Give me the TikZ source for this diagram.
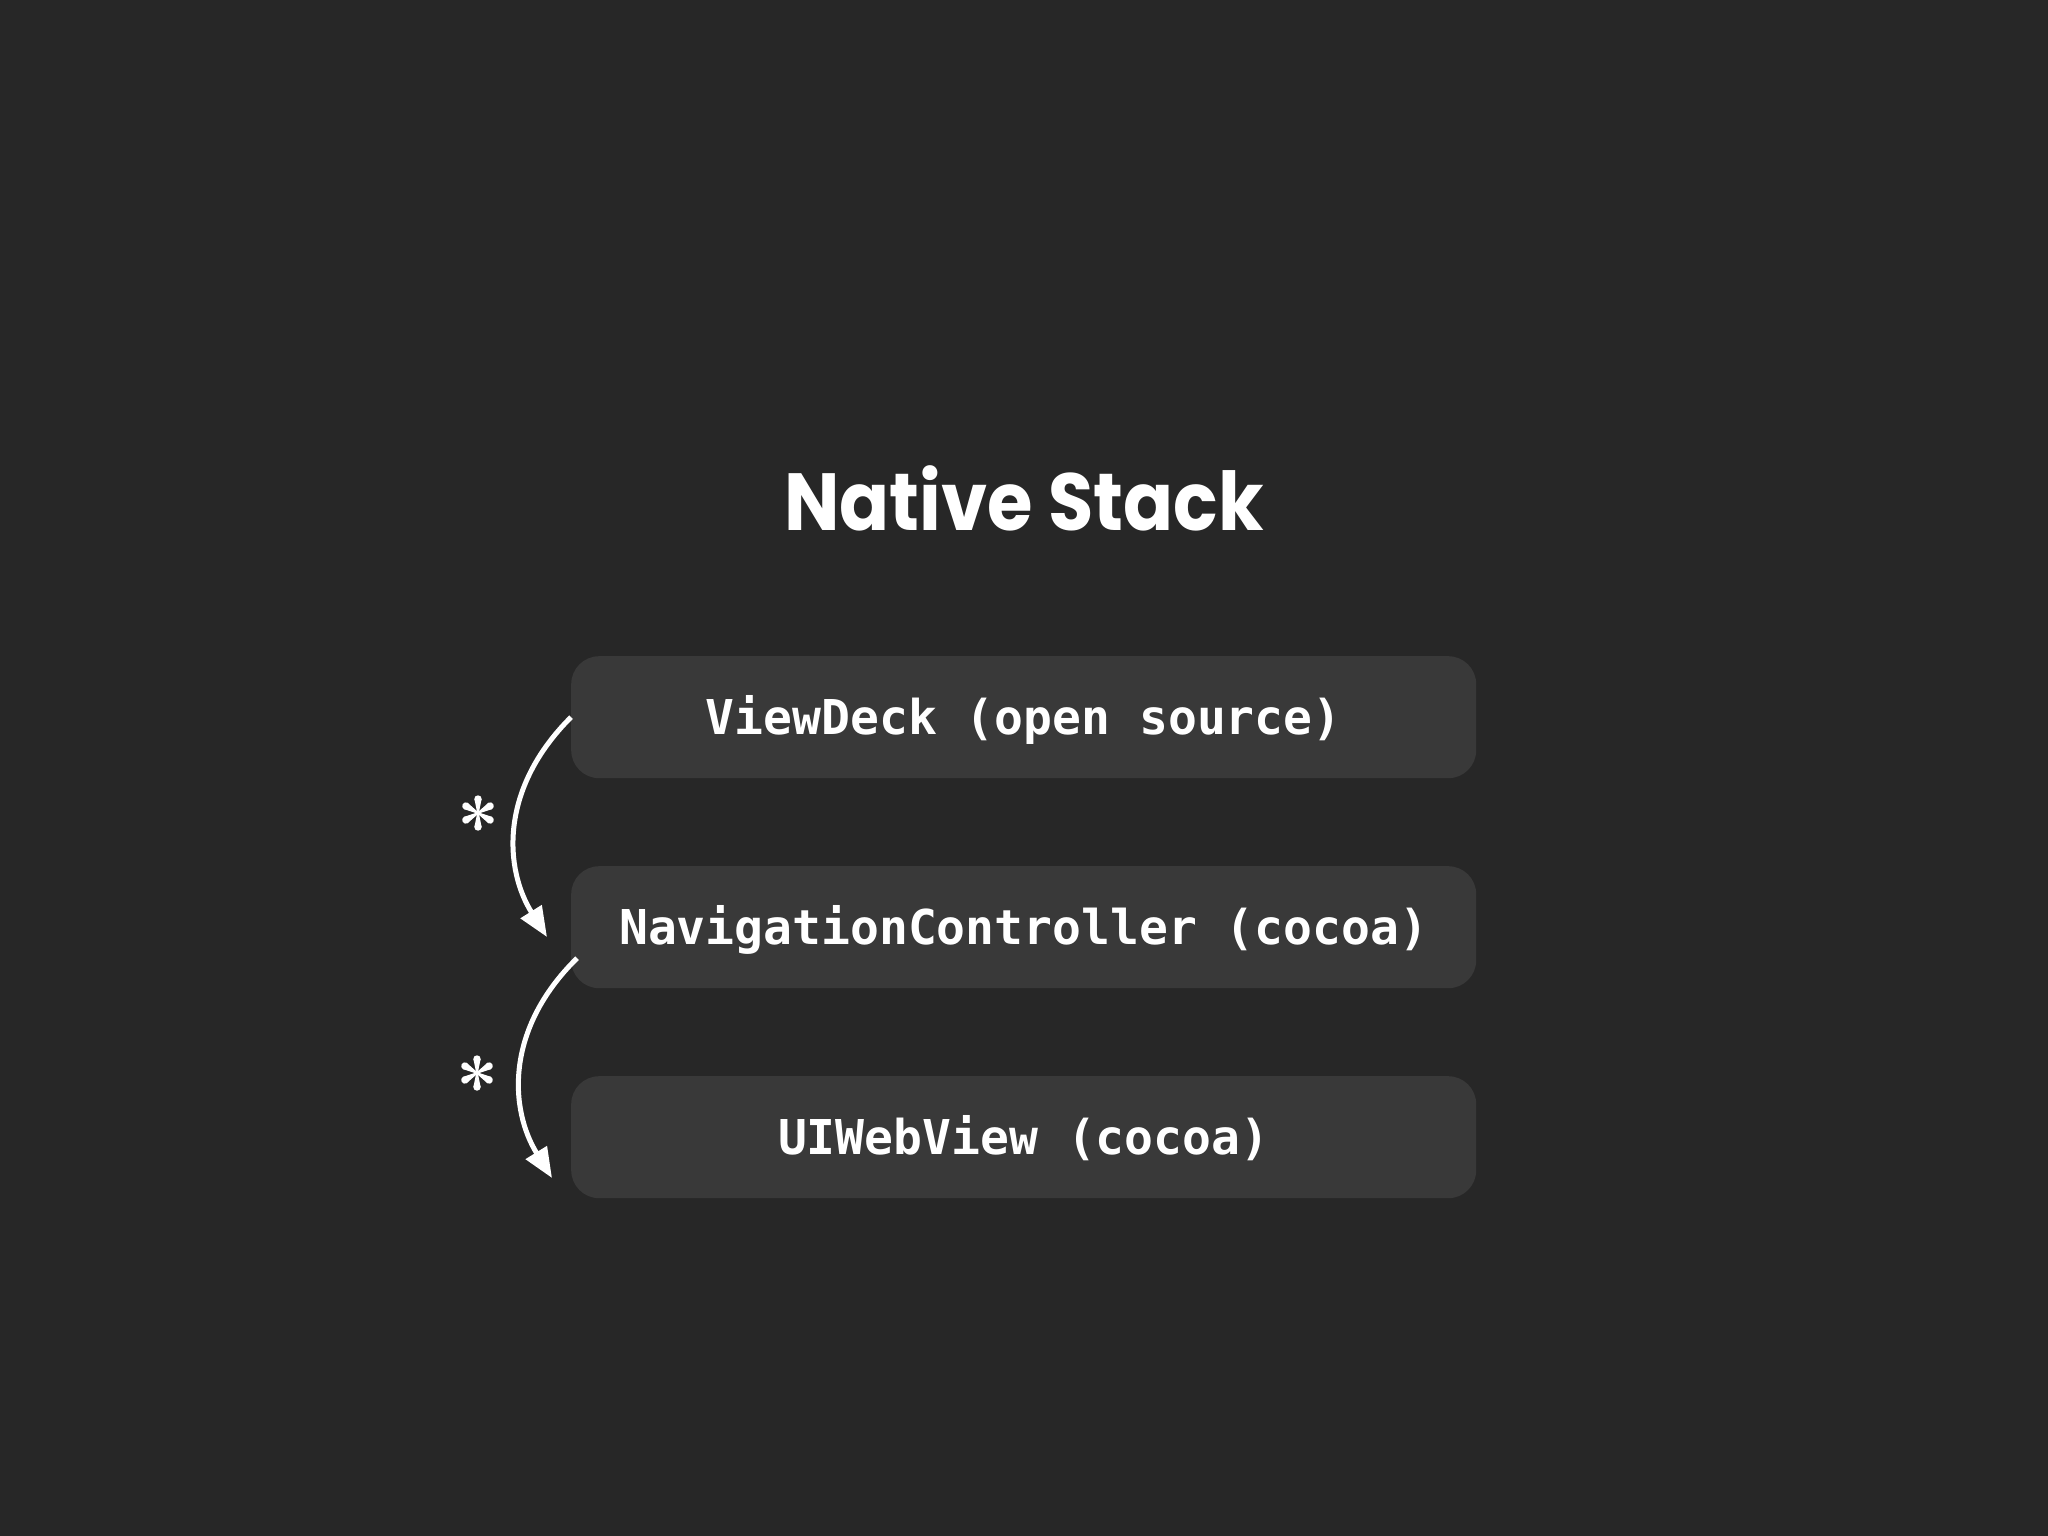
\documentclass[tikz,border=0pt]{standalone}
\usepackage{fontspec}
\usetikzlibrary{arrows.meta}
\newfontfamily\titlefont{Poppins}
\newfontfamily\codefont{DejaVu Sans Mono}
\definecolor{bgc}{HTML}{272727}
\definecolor{boxc}{HTML}{393939}
\begin{document}
\begin{tikzpicture}[x=1pt,y=-1pt,
  stackbox/.style={fill=boxc, rounded corners=28pt, minimum width=905pt, minimum height=122pt,
    inner sep=0pt, text=white, font=\codefont\bfseries\fontsize{48}{50}\selectfont,
    text height=35pt, text depth=0pt, anchor=north west},
  flow/.style={draw=white, line width=5pt, -{Triangle[length=30pt,width=24pt]}},
  spoke/.style={fill=white}]
\useasboundingbox[fill=bgc] (0,0) rectangle (2048,1536);
\node[font=\titlefont\bfseries\fontsize{81}{90}\selectfont, text=white, anchor=base, inner sep=0pt] (title) at (1024,530) {\scalebox{0.91}[1]{Native Stack}};
\node[stackbox] (vd) at (571,656) {ViewDeck (open source)};
\node[stackbox] (nc) at (571,866) {NavigationController (cocoa)};
\node[stackbox] (ui) at (571,1076) {UIWebView (cocoa)};
\coordinate (a1end) at (547,937);
\coordinate (a2start) at ([shift={(6,31)}]nc.west);
\coordinate (a2end) at (552,1178);
\draw[flow] (vd.west) .. controls (498,790) and (505,870) .. (a1end);
\draw[flow] (a2start) .. controls (504,1030) and (510,1110) .. (a2end);
\foreach \cx/\cy in {478/813, 477/1073}{
  \begin{scope}[shift={(\cx,\cy)}]
    \foreach \a in {0,60,...,300}{
      \fill[spoke, rotate=\a] (-0.8,0) -- (-3.6,14) -- (3.6,14) -- (0.8,0) -- cycle;
      \fill[spoke, rotate=\a] (0,14) circle (3.7pt);
    }
  \end{scope}
}
\end{tikzpicture}
\end{document}
